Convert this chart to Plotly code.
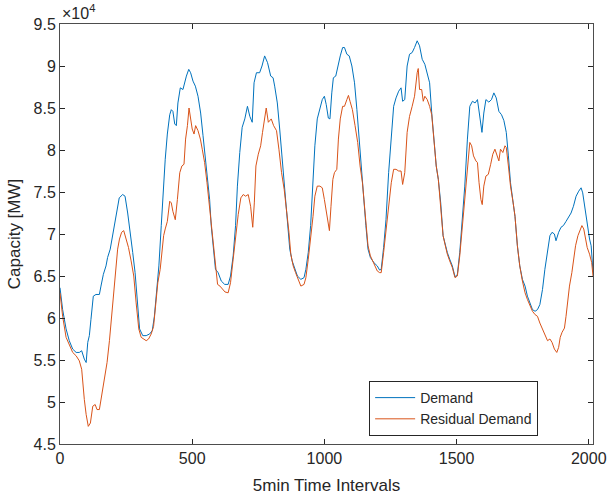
import plotly.graph_objects as go

# Demand (5-min intervals, MW)
demand_t = [0, 10, 23, 35, 48, 61, 73, 82, 92, 99, 105, 111, 117, 126, 136, 149, 155, 164, 174, 180,
            190, 199, 208, 218, 224, 237, 246, 256, 266, 275, 284, 292, 301, 313, 326, 339, 349, 357, 366, 374,
            383, 392, 398, 406, 415, 421, 427, 434, 440, 446, 455, 465, 471, 478, 487, 494, 503, 512, 522, 532,
            541, 550, 557, 566, 572, 580, 588, 598, 610, 623, 636, 645, 655, 664, 671, 680, 689, 699, 709, 718,
            727, 734, 743, 755, 764, 774, 785, 797, 806, 812, 822, 831, 840, 850, 860, 869, 878, 888, 898, 911,
            923, 930, 939, 948, 957, 964, 973, 983, 992, 1000, 1007, 1015, 1021, 1028, 1034, 1043, 1051, 1060, 1069, 1076,
            1085, 1094, 1104, 1114, 1123, 1132, 1140, 1148, 1157, 1165, 1174, 1187, 1200, 1209, 1215, 1224, 1233, 1243, 1253, 1262,
            1271, 1281, 1290, 1296, 1304, 1313, 1322, 1332, 1341, 1351, 1360, 1370, 1380, 1389, 1398, 1406, 1414, 1423, 1431, 1440,
            1449, 1456, 1465, 1474, 1484, 1494, 1503, 1512, 1522, 1531, 1541, 1550, 1560, 1570, 1579, 1588, 1596, 1603, 1611, 1622,
            1632, 1641, 1650, 1660, 1670, 1679, 1688, 1696, 1704, 1714, 1721, 1730, 1739, 1749, 1759, 1768, 1777, 1787, 1797, 1806,
            1815, 1825, 1834, 1844, 1853, 1861, 1870, 1876, 1886, 1895, 1904, 1914, 1924, 1933, 1942, 1952, 1962, 1971, 1977, 1986,
            1994, 2003, 2009, 2016]
demand_mw = [63600, 61000, 58700, 57300, 56300, 55900, 55900, 56100, 55100, 54700, 57100, 57900, 59800, 62600, 62800, 62800, 63800, 65200, 66200, 67200,
             68200, 69800, 71300, 73300, 74300, 74700, 74500, 72500, 70200, 67800, 65400, 62200, 58700, 57900, 57900, 58100, 58500, 60200, 63000, 66200,
             71000, 76500, 78900, 81900, 84200, 84800, 84600, 83100, 82900, 85600, 87400, 87200, 88000, 88800, 89600, 89200, 88200, 87600, 86400, 84400,
             81700, 78900, 76500, 74100, 71000, 68600, 65800, 65400, 64400, 64000, 64000, 65000, 67400, 71000, 75700, 79700, 82700, 83700, 85200, 84000,
             83300, 88000, 89200, 89200, 90000, 91200, 90400, 88800, 88600, 87600, 85600, 82500, 78900, 74900, 71700, 68200, 66800, 65800, 65000, 64600,
             64800, 65800, 67800, 71000, 76500, 80500, 83700, 85000, 86000, 86400, 85400, 83800, 83700, 86800, 88600, 88800, 90000, 91200, 92200, 92200,
             91400, 91200, 90000, 88000, 84800, 80900, 77300, 74500, 71000, 68200, 67200, 66600, 66200, 65700, 65800, 68400, 71700, 77300, 81700, 85200,
             86200, 87000, 87400, 85800, 86000, 90000, 91400, 91600, 92200, 93000, 92400, 90800, 90200, 89200, 88000, 84400, 81300, 78100, 76500, 73700,
             69800, 68800, 67800, 67000, 66200, 64900, 65200, 67800, 71700, 75700, 81300, 85200, 85800, 85600, 86000, 84000, 82100, 84400, 86000, 85700,
             86000, 86800, 86200, 84600, 84200, 83500, 82100, 79300, 76100, 73700, 72100, 68600, 66200, 64600, 63800, 62600, 61800, 61000, 60800, 61000,
             61600, 63400, 65800, 68200, 69800, 70200, 70000, 69200, 70200, 70800, 71000, 71500, 72100, 72500, 73300, 74500, 75100, 75500, 74900, 72900,
             71000, 69400, 68600, 65500]

# Residual demand (5-min intervals, MW)
residual_t = [0, 10, 23, 35, 48, 61, 73, 82, 86, 92, 99, 107, 115, 124, 133, 140, 149, 155, 161, 168,
              178, 187, 193, 199, 206, 212, 218, 225, 233, 241, 250, 259, 269, 279, 288, 298, 307, 317, 326, 335,
              345, 354, 361, 370, 379, 385, 392, 398, 406, 415, 421, 427, 436, 444, 453, 461, 469, 475, 482, 488,
              494, 500, 507, 513, 522, 531, 538, 547, 556, 564, 572, 580, 588, 596, 605, 614, 624, 636, 645, 655,
              664, 674, 684, 693, 702, 712, 721, 729, 735, 741, 750, 759, 766, 773, 780, 788, 799, 808, 819, 828,
              838, 848, 857, 866, 873, 882, 891, 901, 911, 923, 930, 939, 948, 957, 964, 973, 983, 992, 1000, 1007,
              1015, 1019, 1025, 1032, 1038, 1047, 1053, 1060, 1069, 1076, 1085, 1091, 1097, 1106, 1116, 1126, 1135, 1144, 1154, 1165,
              1174, 1187, 1200, 1209, 1215, 1224, 1233, 1243, 1253, 1262, 1271, 1281, 1290, 1296, 1304, 1313, 1322, 1332, 1341, 1351,
              1355, 1360, 1368, 1374, 1380, 1389, 1398, 1406, 1414, 1423, 1431, 1440, 1449, 1456, 1465, 1474, 1484, 1494, 1503, 1512,
              1522, 1531, 1541, 1550, 1557, 1564, 1573, 1579, 1585, 1592, 1597, 1603, 1611, 1620, 1629, 1637, 1645, 1654, 1660, 1666,
              1675, 1683, 1688, 1696, 1704, 1714, 1721, 1730, 1739, 1749, 1759, 1768, 1777, 1787, 1797, 1806, 1815, 1825, 1835, 1844,
              1853, 1861, 1870, 1879, 1886, 1892, 1899, 1908, 1914, 1921, 1927, 1936, 1942, 1950, 1959, 1968, 1974, 1981, 1987, 1994,
              2003, 2011, 2016]
residual_mw = [63000, 60200, 57700, 56900, 55900, 55500, 54900, 53900, 51900, 50300, 48500, 47100, 47500, 49500, 49700, 49100, 49100, 50300, 51500, 52700,
               54700, 57300, 59400, 62200, 63800, 66200, 68200, 69400, 70200, 70400, 69400, 68400, 66800, 65000, 61800, 58700, 57700, 57500, 57300, 57500,
               58100, 59000, 61400, 64200, 65800, 67400, 69800, 70600, 71500, 73900, 73700, 72700, 71700, 74100, 77300, 78100, 78300, 81300, 82900, 85000,
               83700, 82500, 81900, 82900, 82300, 81300, 80100, 78500, 76100, 73700, 71300, 68600, 65800, 64000, 63800, 63400, 63100, 63000, 64200, 67000,
               69800, 72300, 74300, 74700, 74500, 74700, 73300, 70800, 73700, 78100, 79500, 80500, 82100, 83800, 85000, 83300, 83700, 82900, 82300, 80100,
               77300, 75300, 72900, 70200, 67600, 66200, 65400, 64600, 63800, 64000, 64800, 67000, 69400, 72100, 74500, 75700, 75700, 75500, 74100, 72500,
               71000, 70400, 73300, 76500, 77300, 77700, 81300, 83700, 85200, 85200, 86000, 86500, 85800, 84800, 82900, 80900, 78100, 76100, 72500, 68600,
               67400, 66400, 65600, 65400, 65400, 67800, 70200, 73300, 76100, 77700, 77700, 77500, 77500, 75900, 77300, 82100, 84000, 85200, 86400, 89200,
               89700, 87200, 87200, 85800, 86400, 86000, 85200, 84200, 81300, 78100, 76500, 73300, 69800, 68800, 67600, 66800, 66000, 64800, 65000, 67400,
               71000, 74100, 78500, 80900, 80500, 79300, 78700, 78500, 76100, 74100, 73500, 75700, 76900, 77100, 78300, 79500, 80100, 79300, 78700, 80100,
               79700, 80500, 80300, 78100, 75700, 73700, 72100, 68600, 66200, 64400, 63000, 62200, 61600, 60800, 60400, 60200, 59400, 58700, 57900, 57300,
               57500, 57100, 56300, 55900, 56500, 57700, 58300, 58800, 60200, 62200, 63800, 65400, 67000, 68600, 69800, 70600, 71000, 70600, 69400, 68400,
               67600, 66600, 65000]

y_ticks = [45000, 50000, 55000, 60000, 65000, 70000, 75000, 80000, 85000, 90000, 95000]
y_tick_labels = ["4.5", "5", "5.5", "6", "6.5", "7", "7.5", "8", "8.5", "9", "9.5"]
x_ticks = [0, 500, 1000, 1500, 2000]

FONT = "Liberation Sans, Arial, sans-serif"
AXIS_COLOR = "#262626"

fig = go.Figure()
fig.add_trace(go.Scatter(x=demand_t, y=demand_mw, mode="lines", name="Demand",
                         line=dict(color="#0072BD", width=1)))
fig.add_trace(go.Scatter(x=residual_t, y=residual_mw, mode="lines", name="Residual Demand",
                         line=dict(color="#D95319", width=1)))

axis_common = dict(
    showline=True, linecolor="#4d4d4d", linewidth=1, mirror="ticks",
    ticks="inside", ticklen=5, tickcolor=AXIS_COLOR,
    showgrid=False, zeroline=False, automargin=False,
    tickfont=dict(family=FONT, size=16, color=AXIS_COLOR),
)

fig.update_layout(
    width=608, height=499,
    margin=dict(l=60, r=15, t=24, b=55),
    plot_bgcolor="white", paper_bgcolor="white",
    font=dict(family=FONT, color=AXIS_COLOR),
    xaxis=dict(range=[0, 2016], tickvals=x_ticks,
               title=dict(text="5min Time Intervals", font=dict(family=FONT, size=17, color=AXIS_COLOR),
                          standoff=12),
               **axis_common),
    yaxis=dict(range=[45000, 95000], tickvals=y_ticks, ticktext=y_tick_labels,
               title=dict(text="Capacity [MW]", font=dict(family=FONT, size=17, color=AXIS_COLOR),
                          standoff=8),
               **axis_common),
    legend=dict(x=0.58, y=0.019, xanchor="left", yanchor="bottom",
                bgcolor="white", bordercolor=AXIS_COLOR, borderwidth=1,
                font=dict(family=FONT, size=14, color=AXIS_COLOR),
                tracegroupgap=0, itemwidth=40),
    showlegend=True,
    annotations=[dict(text="\u00d710<sup>4</sup>", xref="paper", yref="paper", x=0, y=1,
                      xanchor="left", yanchor="bottom", showarrow=False,
                      font=dict(family=FONT, size=16, color=AXIS_COLOR))],
)

# drop the default 8px body margin so the figure sits at the window's corner
fig.write_html("out.html", config={"displayModeBar": False},
               post_script="document.body.style.margin='0px';")
